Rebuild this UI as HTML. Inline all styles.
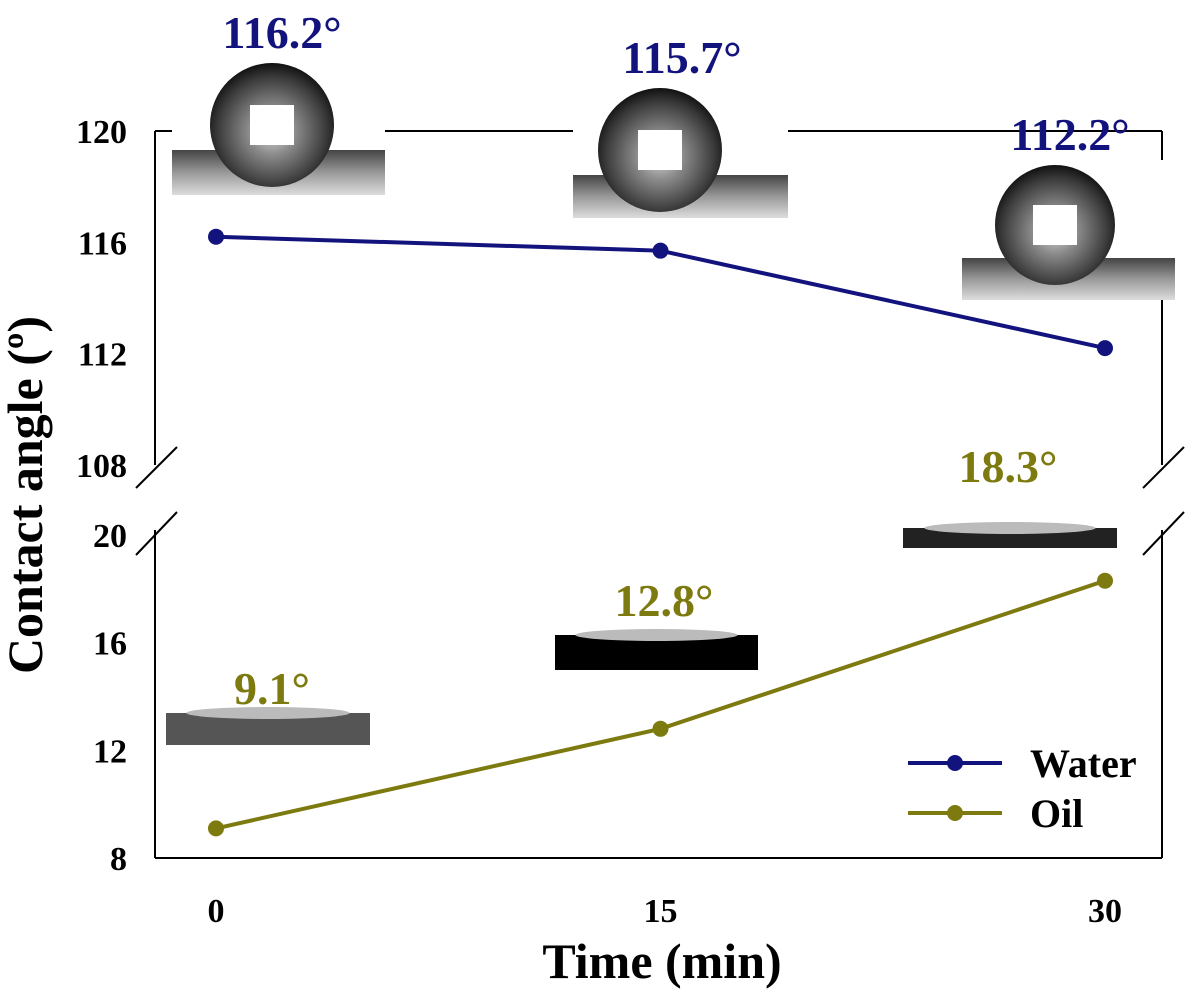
<!DOCTYPE html>
<html><head><meta charset="utf-8"><style>
body{margin:0;background:#fff}
svg{display:block;font-family:"Liberation Serif",serif;font-weight:bold}
</style></head><body>
<svg width="1191" height="996" viewBox="0 0 1191 996">
<defs>
<radialGradient id="drop" cx="0.5" cy="0.55" r="0.55">
<stop offset="0" stop-color="#d8d8d8"/><stop offset="0.35" stop-color="#8a8a8a"/><stop offset="0.8" stop-color="#3a3a3a"/><stop offset="1" stop-color="#111"/>
</radialGradient>
<linearGradient id="sub" x1="0" y1="0" x2="0" y2="1">
<stop offset="0" stop-color="#444"/><stop offset="0.5" stop-color="#999"/><stop offset="1" stop-color="#ddd"/>
</linearGradient>
</defs>
<g id="frame" stroke="#000" stroke-width="2" fill="none"></g>
<g id="imgs"></g>
<g id="marks"></g>
<g id="labels"></g>
</svg>
<script>
const times=[0,15,30];
const water=[116.2,115.7,112.2];
const oil=[9.1,12.8,18.3];
const upperTicks=[108,112,116,120];
const lowerTicks=[8,12,16,20];
const xTicks=[0,15,30];
const waterLabels=["116.2°","115.7°","112.2°"];
const oilLabels=["9.1°","12.8°","18.3°"];
const NS="http://www.w3.org/2000/svg";
const svg=document.querySelector('svg');
function el(tag,attrs,parent,text){const e=document.createElementNS(NS,tag);for(const k in attrs)e.setAttribute(k,attrs[k]);if(text!==undefined)e.textContent=text;(parent||svg).appendChild(e);return e;}
const X=t=>216+(t-0)*(1105-216)/30;
const YU=v=>131+(120-v)*(465-131)/12;
const YL=v=>858-(v-8)*(858-535)/12;
const frame=document.getElementById('frame'),imgs=document.getElementById('imgs'),marks=document.getElementById('marks'),labels=document.getElementById('labels');
let a;
a=el('line',{x1:155,y1:858,x2:1162,y2:858},frame);
a=el('line',{x1:155,y1:131,x2:1162,y2:131},frame);
a=el('path',{d:"M155,131V465M155,530V858M1162,131V465M1162,530V858"},frame);
a=el('path',{d:"M136,488L177,447M136,555L177,512M1143,488L1184,447M1143,555L1184,512"},frame);
upperTicks.forEach(v=>{
 const t=el('text',{x:127,y:YU(v)+12,'text-anchor':'end','font-size':34},labels,v);});
lowerTicks.forEach(v=>{
 const t=el('text',{x:127,y:YL(v)+12,'text-anchor':'end','font-size':34},labels,v);});
xTicks.forEach(v=>{
 const t=el('text',{x:X(v),y:922,'text-anchor':'middle','font-size':34},labels,v);});
a=el('text',{x:662,y:978,'text-anchor':'middle','font-size':50},labels,'Time (min)');
a=el('text',{x:0,y:0,'text-anchor':'middle','font-size':50,transform:'translate(42,495) rotate(-90)'},labels,'Contact angle (º)');
const drops=[[172,85,213,110,272,125,62,150],[573,95,215,123,660,150,62,175],[962,160,213,140,1055,225,60,258]];
drops.forEach(d=>{const [x,y,w,h,cx,cy,r,sy]=d;
 const g=el('g',{},imgs);
 el('rect',{x:x,y:y,width:w,height:h,fill:'#fff'},g);
 el('rect',{x:x,y:sy,width:w,height:y+h-sy,fill:'url(#sub)'},g);
 el('circle',{cx:cx,cy:cy,r:r,fill:'url(#drop)'},g);
 el('rect',{x:cx-22,y:cy-20,width:44,height:40,fill:'#fff'},g);
});
const oils=[[166,675,204,95,713,32,'#555'],[555,585,203,85,635,35,'#000'],[903,495,214,55,528,20,'#222']];
oils.forEach(o=>{const [x,y,w,h,by,bh,c]=o;
 const g=el('g',{},imgs);
 el('rect',{x:x,y:y,width:w,height:h,fill:'#fff'},g);
 el('rect',{x:x,y:by,width:w,height:bh,fill:c},g);
 el('ellipse',{cx:x+w/2,cy:by,rx:w*0.4,ry:6,fill:'#bbb'},g);
});
function series(vals,Y,color,name){
 const p=el('polyline',{points:times.map((t,i)=>X(t)+','+Y(vals[i])).join(' '),fill:'none',stroke:color,'stroke-width':4},marks);
 
 vals.forEach((v,i)=>{const c=el('circle',{cx:X(times[i]),cy:Y(v),r:8,fill:color},marks);
  });
}
series(water,YU,'#13137d','water');
series(oil,YL,'#7d7a10','oil');
const wPos=[[282,48],[682,73],[1070,150]];
waterLabels.forEach((s,i)=>{const t=el('text',{x:wPos[i][0],y:wPos[i][1],'text-anchor':'middle','font-size':46,fill:'#13137d'},labels,s);});
const oPos=[[272,704],[664,616],[1008,482]];
oilLabels.forEach((s,i)=>{const t=el('text',{x:oPos[i][0],y:oPos[i][1],'text-anchor':'middle','font-size':46,fill:'#7d7a10'},labels,s);});
const lg=el('g',{},labels);
[['Water','#13137d',763],['Oil','#7d7a10',813]].forEach(l=>{
 el('line',{x1:908,y1:l[2],x2:1002,y2:l[2],stroke:l[1],'stroke-width':4},lg);
 el('circle',{cx:955,cy:l[2],r:8,fill:l[1]},lg);
 const t=el('text',{x:1030,y:l[2]+14,'font-size':40},lg,l[0]);
});
</script>
</body></html>
